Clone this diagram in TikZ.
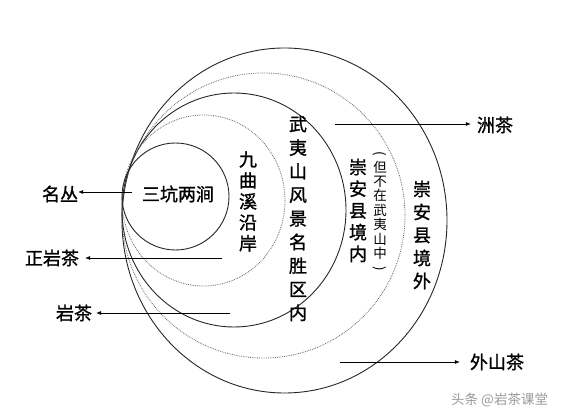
\documentclass[tikz,border=0pt]{standalone}
\usepackage{fontspec}
\setmainfont{Noto Sans CJK SC}[AutoFakeBold=1.2]
\usetikzlibrary{arrows.meta}
\newcommand{\vpopen}{\rotatebox[origin=c]{-90}{(}}
\newcommand{\vpclose}{\rotatebox[origin=c]{-90}{)}}
\tikzset{
  ring/.style={draw=black!85, line width=0.9pt},
  dotring/.style={draw=black!60, line width=0.8pt, densely dotted},
  lbl/.style={inner sep=0pt, font=\fontsize{18}{18}\selectfont\bfseries},
  vtxt/.style={inner sep=0pt, align=center},
  pointer/.style={draw=black, line width=0.6pt, -{Latex[length=5pt,width=4pt]}},
  wm/.style={inner sep=0pt, text=black!40, font=\fontsize{13.5}{13.5}\selectfont}
}
\begin{document}
\begin{tikzpicture}[x=1pt,y=-1pt]
\useasboundingbox (0,0) rectangle (565,419);
% rings
\draw[ring] (284.5,220.5) ellipse [x radius=162.5, y radius=172.5];
\draw[dotring] (263.5,215.5) ellipse [x radius=141.5, y radius=142.5];
\draw[ring] (234,210) ellipse [x radius=112, y radius=117];
\draw[dotring] (203.5,200.5) ellipse [x radius=81.5, y radius=85.5];
\draw[ring] (175.5,196.5) circle [radius=53.5];
% inner texts
\node[lbl] (skld) at (178,194) {三坑两涧};
\node[vtxt, font=\fontsize{18}{21}\selectfont\bfseries] (jqx) at (248,201.5) {九\\曲\\溪\\沿\\岸};
\node[vtxt, font=\fontsize{18}{23.6}\selectfont\bfseries] (wys) at (298,218.5) {武\\夷\\山\\风\\景\\名\\胜\\区\\内};
\node[vtxt, font=\fontsize{18}{21.7}\selectfont\bfseries] (canei) at (358,210.5) {崇\\安\\县\\境\\内};
\node[vtxt, font=\fontsize{13.5}{14.4}\selectfont] (paren) at (380,212) {\vpopen\\但\\不\\在\\武\\夷\\山\\中\\\vpclose};
\node[vtxt, font=\fontsize{18}{23}\selectfont\bfseries] (cawai) at (422,235) {崇\\安\\县\\境\\外};
% outside labels
\node[lbl] (mc) at (60,194) {名丛};
\node[lbl] (zyc) at (52,258) {正岩茶};
\node[lbl] (yc) at (74,313) {岩茶};
\node[lbl] (zc) at (495,125) {洲茶};
\node[lbl] (wsc) at (497,362) {外山茶};
% arrow origins
\coordinate (smc) at (132,192);
\coordinate (szyc) at (222,258);
\coordinate (syc) at (230,313);
\coordinate (szc) at (335,124);
\coordinate (swsc) at (340,362);
\draw[pointer] (smc) -- (mc.east |- smc);
\draw[pointer] (szyc) -- ([xshift=6pt]zyc.east |- szyc);
\draw[pointer] (syc) -- ([xshift=4pt]yc.east |- syc);
\draw[pointer] (szc) -- ([xshift=-6pt]zc.west |- szc);
\draw[pointer] (swsc) -- ([xshift=-10pt]wsc.west |- swsc);
% watermark
\node[wm, anchor=west] (wmk) at (451,400) {头条 @岩茶课堂};
\end{tikzpicture}
\end{document}
